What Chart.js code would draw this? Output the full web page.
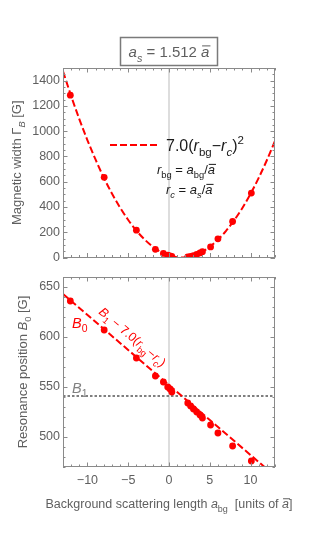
<!DOCTYPE html>
<html lang="en">
<head>
<meta charset="UTF-8">
<title>Magnetic width and resonance position</title>
<script src="https://cdn.jsdelivr.net/npm/chart.js"></script>
<style>
  body { margin: 0; background: #fff; }
  #wrap { position: relative; width: 314px; height: 545px; }
  canvas { position: absolute; left: 0; }
  #topChart { top: 0; }
  #bottomChart { top: 265px; }
</style>
</head>
<body>
<div id="wrap">
  <canvas id="topChart" width="314" height="268"></canvas>
  <canvas id="bottomChart" width="314" height="280"></canvas>
</div>
<script>
// measured points (background scattering length in units of a-bar)
const rBg = [-12.1, -7.95, -4.0, -1.67, -0.69, -0.16, 0.12, 0.35, 2.3, 2.65, 3.0, 3.4, 3.8, 4.1, 5.1, 6.0, 7.8, 10.1];
const widthG = [1285, 635, 216, 65, 32, 18, 13, 8, 4, 9, 15, 24, 36, 46, 84, 148, 285, 510];
const positionG = [636, 607, 579, 561, 555, 550, 548, 545, 534, 531, 528, 525, 522, 519, 512, 504, 491, 476];

// dashed fit curves
const fitX = [-13, -12, -11, -10, -9, -8, -7, -6, -5, -4, -3, -2, -1, 0, 1, 1.512, 2, 3, 4, 5, 6, 7, 8, 9, 10, 11, 12, 13];
const fitWidth = [1474, 1278, 1096, 928, 774, 633, 507, 395, 297, 213, 143, 86, 44, 16, 2, 0, 2, 15, 43, 85, 141, 211, 295, 392, 504, 630, 770, 924];
const lineX = [-13, 13];
const lineB0 = [643, 461];
const B1 = 541;

// axes
const xRange = [-13, 13];
const xTicks = [-10, -5, 0, 5, 10];
const topYRange = [0, 1500];
const topYTicks = [0, 200, 400, 600, 800, 1000, 1200, 1400];
const bottomYRange = [470, 660];
const bottomYTicks = [500, 550, 600, 650];

const RED = '#ff0000';
const GRAY_TXT = '#5f5f5f';
const FRAME = '#8a8a8a';
const FONT = '"Liberation Sans", Arial, sans-serif';

// small rich-text helper: flags i=italic, b=subscript, p=superscript, o=overline
function richText(ctx, parts, x, y, size, color, align) {
  const pieces = parts.map(([t, f = '']) => {
    const small = f.includes('b') || f.includes('p');
    const fs = small ? size * 0.72 : size;
    const font = (f.includes('i') ? 'italic ' : '') + fs + 'px ' + FONT;
    ctx.font = font;
    return { t, f, font, w: ctx.measureText(t).width };
  });
  const total = pieces.reduce((s, p) => s + p.w, 0);
  let cx = align === 'center' ? x - total / 2 : align === 'right' ? x - total : x;
  ctx.fillStyle = color;
  ctx.strokeStyle = color;
  ctx.textAlign = 'left';
  ctx.textBaseline = 'alphabetic';
  pieces.forEach(p => {
    const dy = p.f.includes('b') ? size * 0.3 : p.f.includes('p') ? -size * 0.42 : 0;
    ctx.font = p.font;
    ctx.fillText(p.t, cx, y + dy);
    if (p.f.includes('o')) {
      ctx.lineWidth = 1;
      ctx.beginPath();
      ctx.moveTo(cx + 1, y - size * 0.74);
      ctx.lineTo(cx + p.w + 1, y - size * 0.74);
      ctx.stroke();
    }
    cx += p.w;
  });
}

// frame, zero line and inward ticks (Mathematica style)
function framePlugin(yMajor, yMinorStep) {
  return {
    id: 'frame',
    beforeDatasetsDraw(chart) {
      const { ctx, chartArea: a, scales: { x } } = chart;
      const px = x.getPixelForValue(0);
      ctx.save();
      ctx.strokeStyle = '#d2d2d2';
      ctx.lineWidth = 1.5;
      ctx.beginPath();
      ctx.moveTo(px, a.top);
      ctx.lineTo(px, a.bottom);
      ctx.stroke();
      ctx.restore();
    },
    afterDatasetsDraw(chart) {
      const { ctx, chartArea: a, scales: { x, y } } = chart;
      ctx.save();
      ctx.strokeStyle = FRAME;
      ctx.lineWidth = 1;
      ctx.beginPath();
      for (let v = Math.ceil(x.min); v <= x.max; v++) {
        const p = Math.round(x.getPixelForValue(v)) + 0.5;
        const len = v % 5 === 0 ? 4.5 : 2.5;
        ctx.moveTo(p, a.bottom); ctx.lineTo(p, a.bottom - len);
        ctx.moveTo(p, a.top); ctx.lineTo(p, a.top + len);
      }
      for (let v = Math.ceil(y.min / yMinorStep) * yMinorStep; v <= y.max; v += yMinorStep) {
        const p = Math.round(y.getPixelForValue(v)) + 0.5;
        const len = yMajor.includes(v) ? 4.5 : 2.5;
        ctx.moveTo(a.left, p); ctx.lineTo(a.left + len, p);
        ctx.moveTo(a.right, p); ctx.lineTo(a.right - len, p);
      }
      ctx.stroke();
      ctx.strokeRect(Math.round(a.left) + 0.5, Math.round(a.top) + 0.5,
        Math.round(a.right - a.left) - 1, Math.round(a.bottom - a.top) - 1);
      ctx.restore();
    }
  };
}

const pts = (xs, ys) => xs.map((v, i) => ({ x: v, y: ys[i] }));
const tickFont = { family: FONT, size: 12.5 };
const minus = v => String(v).replace('-', '\u2212');

function yScale(range, ticks) {
  return {
    min: range[0], max: range[1],
    afterFit: s => { s.width = 63; },
    afterBuildTicks: s => { s.ticks = ticks.map(v => ({ value: v })); },
    grid: { display: false, drawTicks: false },
    border: { display: false },
    ticks: { padding: 3, color: GRAY_TXT, font: tickFont, callback: v => String(v) }
  };
}

const pointSet = data => ({
  data, showLine: false, pointRadius: 3.4, pointBackgroundColor: RED,
  pointBorderWidth: 0, order: 1
});
const dashSet = data => ({
  data, showLine: true, pointRadius: 0, borderColor: RED, borderWidth: 2,
  borderDash: [7, 3], cubicInterpolationMode: 'monotone', order: 2
});

// ---------- top panel: magnetic width ----------
const topDecor = {
  id: 'topDecor',
  afterDraw(chart) {
    const ctx = chart.ctx;
    const cx = (chart.chartArea.left + chart.chartArea.right) / 2;
    ctx.save();
    // framed plot label
    ctx.strokeStyle = '#7a7a7a';
    ctx.lineWidth = 1.5;
    ctx.strokeRect(120.5, 37.5, 97, 28);
    richText(ctx, [['a', 'i'], ['s', 'ib'], [' = 1.512 '], ['a', 'io']], cx, 57, 15, GRAY_TXT, 'center');
    // legend
    ctx.strokeStyle = RED;
    ctx.lineWidth = 2;
    ctx.setLineDash([7, 3]);
    ctx.beginPath();
    ctx.moveTo(110, 145);
    ctx.lineTo(158, 145);
    ctx.stroke();
    ctx.setLineDash([]);
    richText(ctx, [['7.0('], ['r', 'i'], ['bg', 'b'], ['\u2212'], ['r', 'i'], ['c', 'ib'], [')'], ['2', 'p']], 166, 151, 16, '#1a1a1a', 'left');
    richText(ctx, [['r', 'i'], ['bg', 'b'], [' = '], ['a', 'i'], ['bg', 'b'], ['/'], ['a', 'io']], 157, 174, 13, '#1a1a1a', 'left');
    richText(ctx, [['r', 'i'], ['c', 'ib'], [' = '], ['a', 'i'], ['s', 'ib'], ['/'], ['a', 'io']], 166, 194, 13, '#1a1a1a', 'left');
    // y title
    ctx.translate(21, (chart.chartArea.top + chart.chartArea.bottom) / 2);
    ctx.rotate(-Math.PI / 2);
    richText(ctx, [['Magnetic width \u0393'], ['B', 'ib'], [' [G]']], 0, 0, 13, GRAY_TXT, 'center');
    ctx.restore();
  }
};

new Chart(document.getElementById('topChart'), {
  type: 'scatter',
  data: {
    datasets: [
      pointSet(pts(rBg, widthG)),
      dashSet(pts(fitX, fitWidth))
    ]
  },
  options: {
    responsive: false,
    animation: false,
    layout: { padding: { left: 0, right: 39, top: 68, bottom: 0 } },
    plugins: { legend: { display: false }, tooltip: { enabled: false } },
    scales: {
      x: {
        type: 'linear', min: xRange[0], max: xRange[1],
        afterFit: s => { s.height = 10; },
        grid: { display: false, drawTicks: false },
        border: { display: false },
        ticks: { display: false }
      },
      y: yScale(topYRange, topYTicks)
    }
  },
  plugins: [framePlugin(topYTicks, 50), topDecor]
});

// ---------- bottom panel: resonance position ----------
const bottomDecor = {
  id: 'bottomDecor',
  afterDraw(chart) {
    const { ctx, chartArea: a, scales: { x, y } } = chart;
    ctx.save();
    richText(ctx, [['B', 'i'], ['0', 'b']], 72, 63, 14.5, RED, 'left');
    richText(ctx, [['B', 'i'], ['1', 'b']], 72, 128, 14.5, '#808080', 'left');
    // label along the fit line
    const x0 = x.getPixelForValue(lineX[0]), y0 = y.getPixelForValue(lineB0[0]);
    const x1 = x.getPixelForValue(lineX[1]), y1 = y.getPixelForValue(lineB0[1]);
    const ang = Math.atan2(y1 - y0, x1 - x0);
    ctx.save();
    ctx.translate(x.getPixelForValue(-8.7), y.getPixelForValue(624));
    ctx.rotate(ang);
    richText(ctx, [['B', 'i'], ['1', 'b'], [' \u2212 7.0('], ['r', 'i'], ['bg', 'b'], ['\u2212'], ['r', 'i'], ['c', 'ib'], [')']], 0, 0, 12.5, RED, 'left');
    ctx.restore();
    // axis titles
    richText(ctx, [['Background scattering length '], ['a', 'i'], ['bg', 'b'], ['  [units of '], ['a', 'io'], [']']],
      (a.left + a.right) / 2, 243, 12.5, GRAY_TXT, 'center');
    ctx.translate(27, (a.top + a.bottom) / 2);
    ctx.rotate(-Math.PI / 2);
    richText(ctx, [['Resonance position '], ['B', 'i'], ['0', 'b'], [' [G]']], 0, 0, 13, GRAY_TXT, 'center');
    ctx.restore();
  }
};

new Chart(document.getElementById('bottomChart'), {
  type: 'scatter',
  data: {
    datasets: [
      pointSet(pts(rBg, positionG)),
      dashSet(pts(lineX, lineB0)),
      {
        data: pts(xRange, [B1, B1]), showLine: true, pointRadius: 0,
        borderColor: '#7f7f7f', borderWidth: 2, borderDash: [2.5, 2], order: 3
      }
    ]
  },
  options: {
    responsive: false,
    animation: false,
    layout: { padding: { left: 0, right: 39, top: 12, bottom: 0 } },
    plugins: { legend: { display: false }, tooltip: { enabled: false } },
    scales: {
      x: {
        type: 'linear', min: xRange[0], max: xRange[1],
        afterFit: s => { s.height = 78; },
        afterBuildTicks: s => { s.ticks = xTicks.map(v => ({ value: v })); },
        grid: { display: false, drawTicks: false },
        border: { display: false },
        ticks: { padding: 6, color: GRAY_TXT, font: tickFont, callback: v => minus(v), maxRotation: 0 }
      },
      y: yScale(bottomYRange, bottomYTicks)
    }
  },
  plugins: [framePlugin(bottomYTicks, 10), bottomDecor]
});
</script>
</body>
</html>
